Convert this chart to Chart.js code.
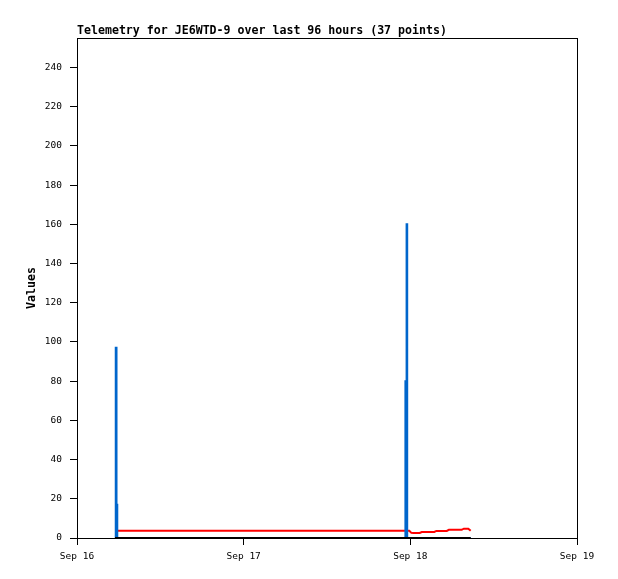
<!DOCTYPE html>
<html>
<head>
<meta charset="utf-8">
<title>Telemetry JE6WTD-9</title>
<script src="https://cdn.jsdelivr.net/npm/chart.js@4.4.1/dist/chart.umd.min.js"></script>
<style>
  html, body { margin: 0; padding: 0; background: #fff; }
  canvas { display: block; }
</style>
</head>
<body>
<canvas id="telemetryChart" width="618" height="579"></canvas>
<script>
// Chart text
const chartTitle = "Telemetry for JE6WTD-9 over last 96 hours (37 points)";
const yAxisTitle = "Values";

// Axis ticks (x in hours since Sep 16 00:00)
const xTickValues = [0, 24, 48, 72];
const xTickLabels = ["Sep 16", "Sep 17", "Sep 18", "Sep 19"];
const yTickValues = [0, 20, 40, 60, 80, 100, 120, 140, 160, 180, 200, 220, 240];

// Sample times, hours since Sep 16 00:00
const sampleHours = [
  5.48, 5.58, 5.69, 5.80,
  47.20, 47.29, 47.46, 47.55,
  47.85, 48.15, 48.45, 48.75, 49.05, 49.35, 49.65, 49.95, 50.40,
  50.85, 51.15, 51.45, 51.75, 52.05, 52.35, 52.65, 52.95, 53.25, 53.55,
  53.85, 54.15, 54.45, 54.75, 55.05, 55.40, 55.70, 56.00, 56.35, 56.69
];

// Channel values (one per sample)
const blueValues = [
  0, 97, 17, 0,
  0, 80, 160, 0,
  0, 0, 0, 0, 0, 0, 0, 0, 0,
  0, 0, 0, 0, 0, 0, 0, 0, 0, 0,
  0, 0, 0, 0, 0, 0, 0, 0, 0, 0
];
const redValues = [
  3.7, 3.7, 3.7, 3.7,
  3.7, 3.7, 3.7, 3.7,
  3.7, 2.6, 2.5, 2.5, 2.5, 2.55, 3.05, 3.05, 3.05,
  3.1, 3.05, 3.1, 3.6, 3.6, 3.55, 3.6, 3.6, 3.6, 4.2,
  4.2, 4.15, 4.2, 4.2, 4.2, 4.2, 4.75, 4.75, 4.75, 3.7
];
const blackValues = [
  0, 0, 0, 0,
  0, 0, 0, 0,
  0, 0, 0, 0, 0, 0, 0, 0, 0,
  0, 0, 0, 0, 0, 0, 0, 0, 0, 0,
  0, 0, 0, 0, 0, 0, 0, 0, 0, 0
];

const tickFont = { family: '"DejaVu Sans Mono", monospace', size: 9.5 };

// pair sample times with a channel
function toPoints(values) {
  return sampleHours.map((h, i) => ({ x: h, y: values[i] }));
}

// draws the title and the box round the plot area
const framePlugin = {
  id: "frame",
  afterDraw(chart) {
    const { ctx, chartArea } = chart;
    ctx.save();
    ctx.strokeStyle = "#000";
    ctx.lineWidth = 1;
    ctx.strokeRect(
      chartArea.left + 0.5,
      chartArea.top + 0.5,
      chartArea.right - chartArea.left,
      chartArea.bottom - chartArea.top
    );
    ctx.font = 'bold 11.6px "DejaVu Sans Mono", monospace';
    ctx.fillStyle = "#000";
    ctx.textAlign = "left";
    ctx.textBaseline = "alphabetic";
    ctx.fillText(chartTitle, chartArea.left, chartArea.top - 4);
    ctx.restore();
  },
};

const ctx = document.getElementById("telemetryChart").getContext("2d");

new Chart(ctx, {
  type: "line",
  data: {
    datasets: [
      {
        label: "Channel 3",
        data: toPoints(blackValues),
        borderColor: "#000000",
        borderWidth: 2,
        pointRadius: 0,
        order: 0,
      },
      {
        label: "Channel 1",
        data: toPoints(blueValues),
        borderColor: "#0066cc",
        borderWidth: 2,
        pointRadius: 0,
        stepped: "before",
        order: 1,
      },
      {
        label: "Channel 2",
        data: toPoints(redValues),
        borderColor: "#ff0000",
        borderWidth: 2,
        pointRadius: 0,
        order: 2,
      },
    ],
  },
  options: {
    responsive: false,
    animation: false,
    layout: { padding: { left: 0, right: 41, top: 38, bottom: 0 } },
    plugins: {
      legend: { display: false },
      tooltip: { enabled: false },
    },
    scales: {
      x: {
        type: "linear",
        min: 0,
        max: 72,
        grid: { drawOnChartArea: false, drawTicks: true, tickLength: 7, color: "#000" },
        border: { display: true, color: "#000", width: 1 },
        ticks: {
          padding: 6,
          color: "#000",
          font: tickFont,
          maxRotation: 0,
          callback: (value) => xTickLabels[xTickValues.indexOf(value)],
        },
        afterBuildTicks: (scale) => {
          scale.ticks = xTickValues.map((v) => ({ value: v }));
        },
        afterFit: (scale) => {
          scale.height = 41;
        },
      },
      y: {
        min: 0,
        max: 255,
        grid: { drawOnChartArea: false, drawTicks: true, tickLength: 7, color: "#000" },
        border: { display: true, color: "#000", width: 1 },
        ticks: { padding: 8, color: "#000", font: tickFont },
        afterBuildTicks: (scale) => {
          scale.ticks = yTickValues.map((v) => ({ value: v }));
        },
        afterFit: (scale) => {
          scale.width = 77;
        },
        title: {
          display: true,
          text: yAxisTitle,
          color: "#000",
          font: { family: '"DejaVu Sans Mono", monospace', size: 11.6, weight: "bold" },
          padding: { top: 25, bottom: 0 },
        },
      },
    },
  },
  plugins: [framePlugin],
});
</script>
</body>
</html>
